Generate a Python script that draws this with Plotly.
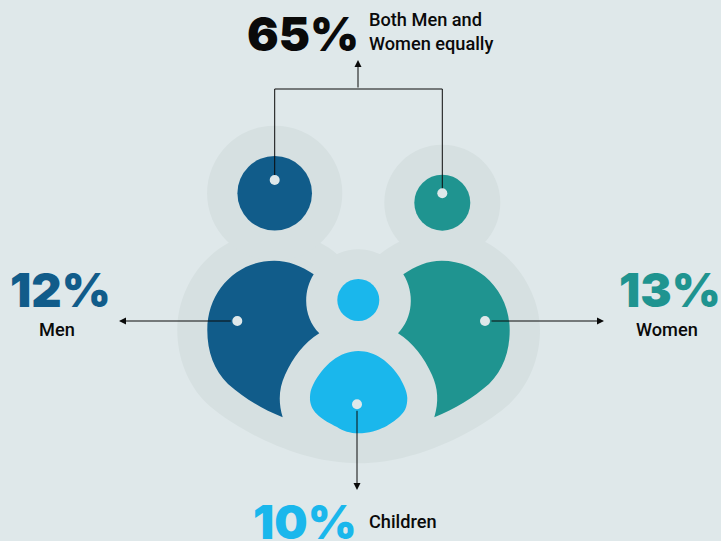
import plotly.graph_objects as go

# Share of each group, with its caption
groups = ["Both Men and<br>Women equally", "Men", "Women", "Children"]
shares = [65, 12, 13, 10]
share_colors = ["#0a0a0a", "#115c8a", "#1f9490", "#1ab7ec"]

BG = "#dfe8ea"
HALO = "#d6e0e1"
BLUE, TEAL, SKY = share_colors[1], share_colors[2], share_colors[3]
INK = "#0a0a0a"
BIG_FONT = "Inter"
SMALL_FONT = "Roboto"


def disc(cx, cy, r, color, layer="above"):
    return dict(type="circle", x0=cx - r, x1=cx + r, y0=cy - r, y1=cy + r,
                fillcolor=color, line_width=0, layer=layer)


def blob(d, color):
    return dict(type="path", path=d, fillcolor=color, line_width=0, layer="above")


def rule(x0, y0, x1, y1):
    return dict(type="line", x0=x0, y0=y0, x1=x1, y1=y1,
                line=dict(color=INK, width=1), layer="above")


halo_body = ("M228.7,242.7 C197,260 177.3,295 177.3,330 C177.3,358 188,385 206.7,403.3 "
             "C225,421 290,463.3 358.3,463.3 C427,463.3 492,421 510,403.3 "
             "C529,385 540,358 540,330 C540,295 517,258 485,241.7 L399.3,241.7 "
             "C393,245 386,249 380,254 L336.7,254 C332,249 326,246 320,242.7 Z")
man_body = ("M313.7,274.3 C302,266 288,260.7 274.3,260.7 C237,260.7 207.3,291 207.3,330 "
            "C207.3,352 214,370 228,384 C244,398 262,409 282.7,417.3 "
            "C278,402 279,388 285,375 C293,357 304,343 319.3,333.3 "
            "C304,318 302,293 313.7,274.3 Z")
woman_body = ("M403.3,274.3 C415,266 428,260.7 441.7,260.7 C479,260.7 509.7,291 509.7,330 "
              "C509.7,352 503,370 489,384 C473,398 455,409 434.3,417.3 "
              "C439,402 438,388 432,375 C424,357 413,343 398,333.3 "
              "C413,318 415,293 403.3,274.3 Z")
child_body = ("M358.3,351 C340,351 323,365 313,385 C310,391 310,395 310,400 "
              "C311,413 323,420 337,427 C343,431 350,433.3 358.3,433.3 "
              "C380,433.3 393,422 398,418 C405,412 407.3,407 407.3,398 "
              "C407,390 402,382 400,378 C390,362 375,351 358.3,351 Z")

shapes = [
    blob(halo_body, HALO),
    disc(274.7, 193.3, 67.6, HALO),
    disc(442.3, 202.7, 58, HALO),
    disc(358.3, 300, 50.7, HALO),
    disc(274.7, 193.3, 37.3, BLUE),
    disc(442.3, 202.7, 28, TEAL),
    disc(358.3, 300, 21, SKY),
    blob(man_body, BLUE),
    blob(woman_body, TEAL),
    blob(child_body, SKY),
    # bracket joining the two heads
    rule(274.7, 180, 274.7, 89),
    rule(274.7, 89, 442.3, 89),
    rule(442.3, 89, 442.3, 193.3),
]
dots = [(274.7, 180), (442.3, 193.3), (237.3, 321), (485, 321), (357, 404.3)]

annotations = []


def arrow(x0, y0, x1, y1):
    annotations.append(dict(x=x1, y=y1, ax=x0, ay=y0, xref="x", yref="y", axref="x", ayref="y",
                            showarrow=True, arrowhead=2, arrowsize=1.4, arrowwidth=1,
                            arrowcolor=INK, text=""))


arrow(358, 89, 358, 60)
arrow(232.3, 321, 119, 321)
arrow(490, 321, 604, 321)
arrow(357, 409.3, 357, 490)


def text(x, y, s, size, color, family, anchor="center", weight=None):
    font = dict(size=size, color=color, family=family)
    if weight:
        font["weight"] = weight
    annotations.append(dict(x=x, y=y, xref="x", yref="y", text=s, showarrow=False,
                            xanchor=anchor, yanchor="middle", align="left" if anchor == "left" else "center",
                            font=font))


big_positions = [(303, 33.5), (60, 289.5), (669.5, 289.5), (305, 521)]
for (x, y), share, color in zip(big_positions, shares, share_colors):
    text(x, y, f"{share}%", 47, color, BIG_FONT, weight=900)

text(367, 31.5, groups[0], 18.2, INK, SMALL_FONT, anchor="left", weight=500)
text(57, 329, groups[1], 18.2, INK, SMALL_FONT, weight=500)
text(667, 329, groups[2], 18.2, INK, SMALL_FONT, weight=500)
text(367, 521, groups[3], 18.2, INK, SMALL_FONT, anchor="left", weight=500)

fig = go.Figure()
fig.update_layout(
    width=721, height=541, margin=dict(l=0, r=0, t=0, b=0),
    paper_bgcolor=BG, plot_bgcolor=BG, showlegend=False,
    xaxis=dict(range=[0, 721], visible=False, fixedrange=True),
    yaxis=dict(range=[541, 0], visible=False, fixedrange=True),
    shapes=shapes + [disc(x, y, 5, BG) for x, y in dots],
    annotations=annotations,
)
fig.write_html("out.html", config={"displayModeBar": False})
